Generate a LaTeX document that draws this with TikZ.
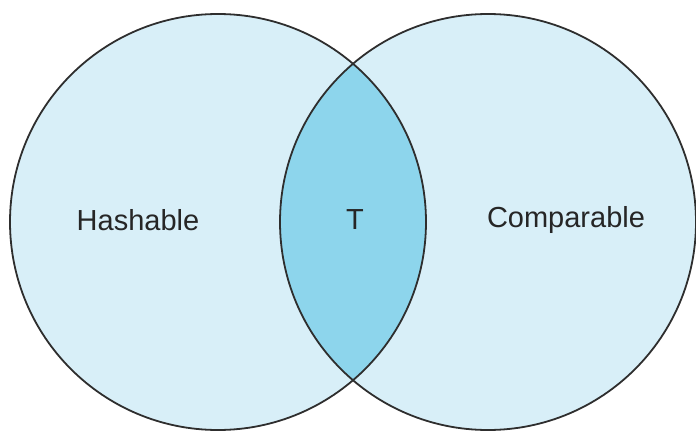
\documentclass[tikz,border=0pt]{standalone}
\usepackage{fontspec}
\setmainfont{Liberation Sans}
\definecolor{setfill}{HTML}{D8EFF8}
\definecolor{lensfill}{HTML}{8DD5EC}
\definecolor{edge}{HTML}{2E2E2E}
\definecolor{labeltext}{HTML}{262626}
\begin{document}
\begin{tikzpicture}[x=1pt,y=-1pt,
  setcircle/.style={circle,minimum size=416pt,inner sep=0pt},
  outline/.style={draw=edge,line width=1.8pt},
  setlabel/.style={text=labeltext,font=\fontsize{29}{33}\selectfont,inner sep=0pt,anchor=center}]
  \useasboundingbox (0,0) rectangle (696,433);
  % the two sets
  \node[setcircle,fill=setfill] (hash) at (218,222) {};
  \node[setcircle,fill=setfill] (comp) at (488,222) {};
  % their intersection
  \begin{scope}
    \clip (218,222) circle (208);
    \fill[lensfill] (488,222) circle (208);
  \end{scope}
  % outlines on top
  \draw[outline] (hash.center) circle (208);
  \draw[outline] (comp.center) circle (208);
  % labels
  \node[setlabel] (hl) at (138,220) {Hashable};
  \node[setlabel] (tl) at (355,220) {T};
  \node[setlabel] (cl) at (566,220) {Comparable};
\end{tikzpicture}
\end{document}
